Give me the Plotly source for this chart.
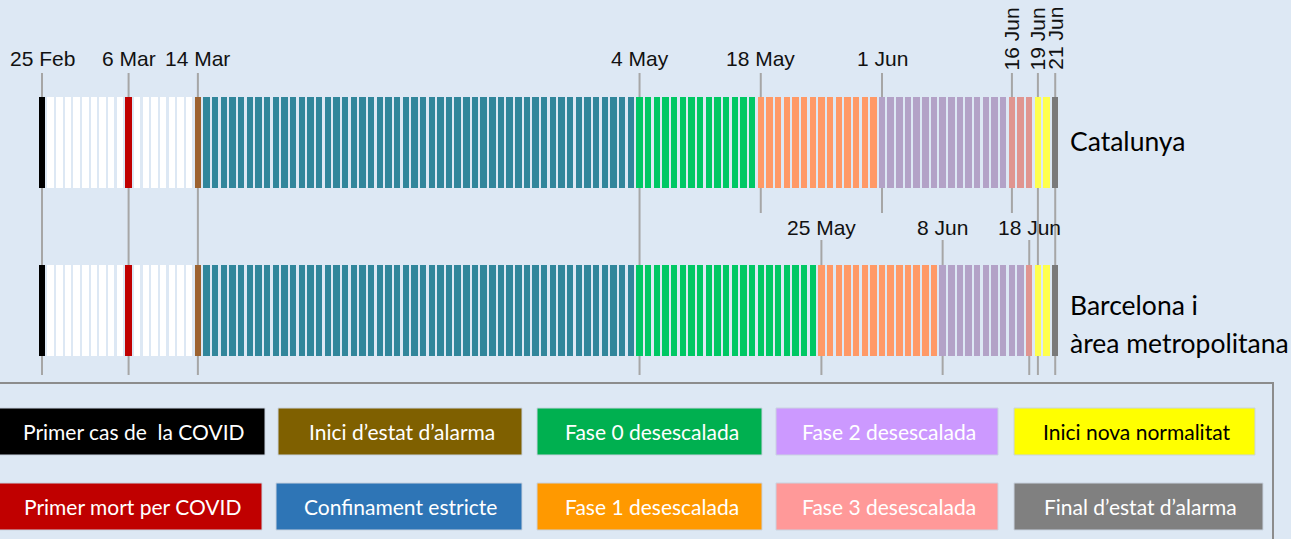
import datetime as dt
import plotly.graph_objects as go

# ---------------- data ----------------
start_date = "2020-02-25"
end_date = "2020-06-21"

phase_keys = ["cas", "blank", "mort", "alarma", "confinament", "fase0",
              "fase1", "fase2", "fase3", "normalitat", "final"]
bar_colors = ["#000000", "#ffffff", "#c00000", "#9c6230", "#31869b", "#00c864",
              "#ff9966", "#b3a2c7", "#e09590", "#ffff4d", "#7a7a7a"]

cat_phase_dates = ["2020-02-25", "2020-02-26", "2020-03-06", "2020-03-07", "2020-03-14",
                   "2020-03-15", "2020-05-04", "2020-05-18", "2020-06-01", "2020-06-16",
                   "2020-06-19", "2020-06-21"]
cat_phase_keys = ["cas", "blank", "mort", "blank", "alarma", "confinament", "fase0",
                  "fase1", "fase2", "fase3", "normalitat", "final"]

bcn_phase_dates = ["2020-02-25", "2020-02-26", "2020-03-06", "2020-03-07", "2020-03-14",
                   "2020-03-15", "2020-05-04", "2020-05-25", "2020-06-08", "2020-06-18",
                   "2020-06-19", "2020-06-21"]
bcn_phase_keys = cat_phase_keys

region_names = ["Catalunya", "Barcelona i<br>àrea metropolitana"]

cat_label_dates = ["2020-02-25", "2020-03-06", "2020-03-14", "2020-05-04", "2020-05-18",
                   "2020-06-01", "2020-06-16", "2020-06-19", "2020-06-21"]
cat_label_texts = ["25 Feb", "6 Mar", "14 Mar", "4 May", "18 May", "1 Jun",
                   "16 Jun", "19 Jun", "21 Jun"]
cat_label_rotated = [False, False, False, False, False, False, True, True, True]
cat_label_full = [True, True, True, True, False, False, False, True, True]

bcn_label_dates = ["2020-05-25", "2020-06-08", "2020-06-18"]
bcn_label_texts = ["25 May", "8 Jun", "18 Jun"]

legend_row1 = ["Primer cas de  la COVID", "Inici d’estat d’alarma", "Fase 0 desescalada",
               "Fase 2 desescalada", "Inici nova normalitat"]
legend_row1_colors = ["#000000", "#7f6000", "#00b050", "#cc99ff", "#ffff00"]
legend_row1_text = ["white", "white", "white", "white", "black"]
legend_row2 = ["Primer mort per COVID", "Confinament estricte", "Fase 1 desescalada",
               "Fase 3 desescalada", "Final d’estat d’alarma"]
legend_row2_colors = ["#c00000", "#2e75b6", "#ff9900", "#ff9999", "#808080"]
legend_row2_text = ["white", "white", "white", "white", "white"]

# ---------------- layout helpers ----------------
W, H = 1291, 539
BG = "#dde8f4"
DAY_MS = 86400000
d0 = dt.date.fromisoformat(start_date)
d1 = dt.date.fromisoformat(end_date)
ndays = (d1 - d0).days + 1
days = [d0 + dt.timedelta(days=i) for i in range(ndays)]

color_of = dict(zip(phase_keys, bar_colors))


def day_colors(pdates, pkeys):
    pd_ = [dt.date.fromisoformat(s) for s in pdates]
    out = []
    for d in days:
        k = None
        for s, key in zip(pd_, pkeys):
            if d >= s:
                k = key
        out.append(color_of[k])
    return out


def yv(py):  # pixel -> data y
    return (310.5 - py) / 168.0


def px(x):
    return x / W


def py(y):
    return 1 - y / H


x_lo = dt.datetime.combine(d0, dt.time()) - dt.timedelta(days=42 / 8.66)
x_hi = dt.datetime.combine(d0, dt.time()) + dt.timedelta(days=(W - 42) / 8.66)

fig = go.Figure()

BAR_H = 91 / 168.0
for yc, (pdts, pks) in zip([1, 0], [(cat_phase_dates, cat_phase_keys),
                                     (bcn_phase_dates, bcn_phase_keys)]):
    fig.add_trace(go.Bar(
        x=[d.isoformat() for d in days],
        y=[BAR_H] * ndays,
        base=[yc - BAR_H / 2] * ndays,
        width=[0.74 * DAY_MS] * ndays,
        marker=dict(color=day_colors(pdts, pks), line=dict(width=0)),
        showlegend=False, hoverinfo="skip",
    ))

LINE = dict(color="#a6a6a6", width=2)
label_font = dict(family="Liberation Sans, Arial", size=21, color="#111111")

for d, t, rot, full in zip(cat_label_dates, cat_label_texts, cat_label_rotated, cat_label_full):
    fig.add_shape(type="line", xref="x", yref="y", x0=d, x1=d,
                  y0=yv(73), y1=yv(375 if full else 213), line=LINE, layer="below")
    if rot:
        fig.add_annotation(x=d, y=yv(71), xref="x", yref="y", text=t, textangle=-90,
                           showarrow=False, xanchor="center", yanchor="bottom",
                           font=label_font, borderpad=0)
    else:
        fig.add_annotation(x=d, y=yv(58), xref="x", yref="y", text=t,
                           showarrow=False, xanchor="center", yanchor="middle",
                           font=label_font)

for d, t in zip(bcn_label_dates, bcn_label_texts):
    fig.add_shape(type="line", xref="x", yref="y", x0=d, x1=d,
                  y0=yv(240), y1=yv(375), line=LINE, layer="below")
    fig.add_annotation(x=d, y=yv(227), xref="x", yref="y", text=t,
                       showarrow=False, xanchor="center", yanchor="middle",
                       font=label_font)

row_font = dict(family="Lato, Open Sans", size=26.5, color="#000000")
fig.add_annotation(x=px(1068), y=py(141), xref="paper", yref="paper", text=region_names[0],
                   showarrow=False, xanchor="left", yanchor="middle", font=row_font)
for i, part in enumerate(region_names[1].split("<br>")):
    fig.add_annotation(x=px(1068), y=py(305 + 38 * i), xref="paper", yref="paper", text=part,
                       showarrow=False, xanchor="left", yanchor="middle", font=row_font)

# legend frame
fig.add_shape(type="rect", xref="paper", yref="paper", x0=px(-3), x1=px(1273),
              y0=py(560), y1=py(383), line=dict(color="#8c8c8c", width=2),
              fillcolor="rgba(0,0,0,0)")

box_x = [(-2, 265), (278, 522), (537, 762), (776, 998), (1014, 1255)]
box_x2 = [(-2, 262), (276, 522), (537, 762), (776, 998), (1014, 1263)]
leg_font_size = 21
for row_y, names, cols, tcols, bx in [((408, 455), legend_row1, legend_row1_colors, legend_row1_text, box_x),
                                       ((483, 530), legend_row2, legend_row2_colors, legend_row2_text, box_x2)]:
    for n, c, tc, (xa, xb) in zip(names, cols, tcols, bx):
        fig.add_shape(type="rect", xref="paper", yref="paper", x0=px(xa), x1=px(xb),
                      y0=py(row_y[1]), y1=py(row_y[0]), fillcolor=c,
                      line=dict(color="#c9d3e0", width=1))
        fig.add_annotation(x=px((xa + xb) / 2 + 2), y=py((row_y[0] + row_y[1]) / 2), xref="paper",
                           yref="paper", text=n, showarrow=False, xanchor="center",
                           yanchor="middle",
                           font=dict(family="Lato, Open Sans", size=leg_font_size, color=tc))

fig.update_layout(
    width=W, height=H, margin=dict(l=0, r=0, t=0, b=0),
    paper_bgcolor=BG, plot_bgcolor=BG, bargap=0, barmode="overlay",
    xaxis=dict(type="date", range=[x_lo.isoformat(), x_hi.isoformat()], visible=False,
               fixedrange=True),
    yaxis=dict(range=[yv(H), yv(0)], visible=False, fixedrange=True),
    showlegend=False,
)

fig.write_html("out.html", config={"displayModeBar": False},
               post_script="document.body.style.margin='0';document.body.style.overflow='hidden';"
                           "document.body.style.background='" + BG + "';")
